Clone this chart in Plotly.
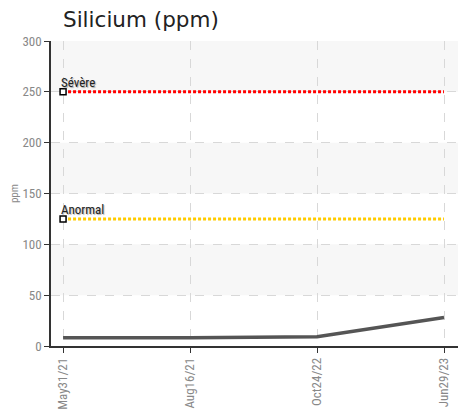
import plotly.graph_objects as go

dates = ["May31/21", "Aug16/21", "Oct24/22", "Jun29/23"]
silicium = [8, 8, 9, 28]
severe_level = 250
anormal_level = 125
y_ticks = [0, 50, 100, 150, 200, 250, 300]

fig = go.Figure()

# alternating background bands
for i, (lo, hi) in enumerate(zip(y_ticks[:-1], y_ticks[1:])):
    if i % 2 == 1:
        fig.add_shape(type="rect", xref="paper", yref="y", x0=0, x1=1, y0=lo, y1=hi,
                      fillcolor="#f7f7f7", line_width=0, layer="below")

fig.add_trace(go.Scatter(x=dates, y=[severe_level] * len(dates), mode="lines",
                         line=dict(color="#ff0000", width=3, dash="3px,2px"),
                         hoverinfo="skip", showlegend=False))
fig.add_trace(go.Scatter(x=dates, y=[anormal_level] * len(dates), mode="lines",
                         line=dict(color="#ffcc00", width=3, dash="3px,2px"),
                         hoverinfo="skip", showlegend=False))
fig.add_trace(go.Scatter(x=[dates[0], dates[0]], y=[severe_level, anormal_level], mode="markers",
                         marker=dict(symbol="square", color="white", size=6,
                                     line=dict(width=1.5, color="black")),
                         hoverinfo="skip", showlegend=False))
fig.add_trace(go.Scatter(x=dates, y=silicium, mode="lines",
                         line=dict(color="#555555", width=3.5),
                         showlegend=False))

cond = "Liberation Sans Narrow, Roboto Condensed, Roboto"
for label, lvl in [("Sévère", severe_level), ("Anormal", anormal_level)]:
    fig.add_annotation(x=dates[0], y=lvl, text=label, showarrow=False,
                       xanchor="left", yanchor="bottom", xshift=-4, yshift=0,
                       font=dict(family=cond, size=13, color="#222222",
                                 shadow="1px 1px 1px #aaaaaa"))

W, H = 458, 404
fig.update_layout(
    width=W, height=H,
    margin=dict(l=43, r=8, t=33, b=66, autoexpand=False),
    paper_bgcolor="white", plot_bgcolor="white",
    title=dict(text="Silicium (ppm)", x=55 / W, xanchor="left", y=1 - 11 / H, yanchor="middle",
               font=dict(family="DejaVu Sans", size=21.5, color="#222222")),
    xaxis=dict(type="category", range=[-0.095, 3.11], showgrid=True, gridcolor="#d8d8d8",
               griddash="dash", gridwidth=1, showline=True, linecolor="#333333", linewidth=1.5,
               ticks="outside", ticklen=5, tickcolor="#333333", tickangle=-90, automargin=False,
               tickfont=dict(family=cond, size=13, color="#888888"), zeroline=False),
    yaxis=dict(range=[0, 300], tickvals=y_ticks, showgrid=True, gridcolor="#d8d8d8",
               griddash="dash", gridwidth=1, showline=True, linecolor="#333333", linewidth=1.5,
               ticks="outside", ticklen=5, tickcolor="#333333", automargin=False,
               tickfont=dict(family=cond, size=13, color="#888888"), zeroline=False,
               title=dict(text="ppm", font=dict(family=cond, size=11, color="#888888"), standoff=3)),
)

fig.write_html("out.html")
